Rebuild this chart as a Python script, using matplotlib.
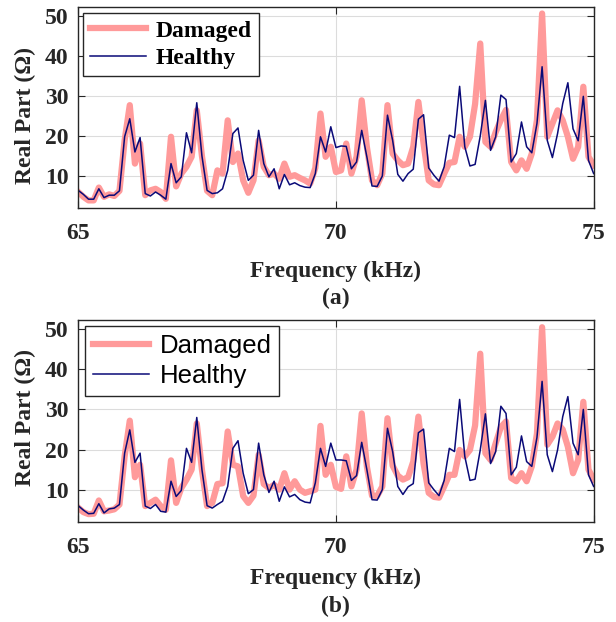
import matplotlib
matplotlib.use("Agg")
import matplotlib.pyplot as plt
import numpy as np

# frequency sweep, 0.1 kHz steps
freq = np.linspace(65, 75, 101)

# (a) real part of impedance, ohm
damaged_a = [6.0, 4.8, 3.9, 3.9, 7.1, 4.8, 5.4, 5.0, 6.3, 18.9,
             27.7, 13.1, 18.1, 5.2, 6.4, 6.8, 6.0, 4.3, 19.8, 7.4,
             10.6, 12.3, 14.8, 26.4, 15.0, 6.3, 5.2, 11.4, 10.6, 23.9,
             13.5, 15.6, 8.9, 5.8, 8.9, 18.9, 12.3, 10.2, 10.6, 9.3,
             13.1, 9.8, 10.2, 9.5, 8.9, 8.1, 12.0, 25.6, 14.8, 17.3,
             11.0, 11.4, 18.1, 10.6, 14.8, 28.9, 17.3, 8.9, 7.7, 10.6,
             27.7, 15.6, 13.9, 12.7, 13.1, 17.3, 28.5, 18.1, 8.9, 7.9,
             7.7, 10.6, 13.3, 13.5, 19.8, 17.3, 19.8, 28.0, 43.1, 18.5,
             17.3, 21.0, 24.0, 26.5, 13.5, 11.4, 13.9, 11.8, 15.6, 24.0,
             50.6, 19.8, 23.1, 26.4, 23.9, 19.8, 14.3, 17.3, 32.3, 14.8,
             12.7]
healthy_a = [6.4, 5.4, 4.2, 4.2, 6.8, 4.6, 5.2, 5.2, 6.3, 19.8,
             24.3, 16.0, 19.6, 5.6, 5.0, 6.0, 5.2, 4.2, 13.1, 8.3,
             9.8, 20.8, 15.8, 28.3, 15.0, 6.4, 5.6, 5.8, 6.8, 11.4,
             20.6, 22.0, 13.9, 8.9, 10.2, 21.4, 13.1, 9.8, 11.8, 6.8,
             10.4, 7.8, 8.3, 7.6, 7.2, 7.1, 10.6, 19.8, 16.0, 22.3,
             17.1, 17.5, 17.4, 11.8, 13.5, 21.4, 14.8, 7.5, 7.4, 10.0,
             25.2, 18.9, 10.4, 8.7, 10.6, 11.7, 24.2, 25.3, 12.0, 10.2,
             8.7, 12.3, 20.2, 19.6, 32.4, 17.3, 12.5, 12.9, 20.0, 28.9,
             16.4, 19.8, 30.2, 29.1, 13.5, 15.6, 23.5, 17.3, 15.8, 23.1,
             37.3, 18.9, 14.6, 20.6, 28.1, 33.3, 21.8, 18.8, 29.9, 13.9,
             10.6]

# (b)
damaged_b = [5.5, 4.4, 3.9, 4.0, 7.3, 4.6, 4.8, 5.1, 6.3, 18.3,
             27.2, 13.1, 16.2, 5.9, 6.7, 7.5, 5.9, 5.0, 17.3, 6.7,
             10.4, 12.5, 15.0, 26.5, 15.0, 5.9, 6.7, 11.4, 11.6, 24.5,
             16.2, 15.8, 8.4, 6.7, 8.5, 18.7, 11.4, 10.4, 11.2, 10.0,
             14.1, 10.0, 12.1, 10.0, 9.2, 9.6, 10.0, 25.9, 13.7, 16.2,
             10.7, 10.2, 18.3, 10.8, 15.0, 29.0, 15.8, 8.5, 8.4, 10.8,
             27.8, 16.0, 13.5, 12.5, 13.1, 17.0, 28.2, 16.5, 9.2, 8.2,
             8.0, 10.8, 13.7, 13.7, 19.9, 18.3, 19.9, 26.0, 43.9, 19.1,
             17.4, 21.6, 25.6, 27.0, 12.9, 12.1, 14.1, 12.1, 15.8, 24.0,
             50.5, 21.2, 23.2, 26.5, 25.0, 20.7, 14.1, 17.4, 31.9, 15.0,
             12.5]
healthy_b = [6.0, 4.9, 4.0, 4.1, 6.5, 4.2, 5.2, 5.4, 6.3, 19.1,
             24.9, 16.8, 19.1, 5.9, 5.3, 6.3, 4.6, 4.4, 12.1, 8.3,
             9.8, 20.3, 16.8, 28.0, 15.0, 6.0, 5.4, 6.3, 7.1, 10.8,
             20.3, 22.2, 14.1, 9.0, 10.0, 21.6, 13.7, 9.3, 12.1, 7.1,
             10.7, 8.2, 8.8, 7.5, 6.9, 6.7, 11.7, 20.3, 15.8, 21.6,
             17.4, 17.4, 17.2, 12.3, 13.5, 21.8, 15.0, 7.5, 7.4, 10.0,
             25.3, 19.5, 10.8, 8.8, 10.7, 11.5, 24.2, 25.1, 11.7, 10.0,
             8.5, 12.3, 20.3, 19.5, 32.5, 18.3, 12.3, 12.6, 19.9, 28.9,
             16.5, 19.5, 30.8, 29.0, 13.7, 15.6, 23.4, 17.0, 15.8, 23.0,
             37.0, 18.7, 14.5, 19.9, 28.2, 33.2, 21.6, 18.7, 30.0, 13.7,
             10.8]

xticks = [65, 70, 75]
yticks = [10, 20, 30, 40, 50]

serif = 'Liberation Serif'
pink = '#ff9a9a'
navy = '#0a0a78'

fig = plt.figure(figsize=(6.16, 6.22), dpi=100)
ax1 = fig.add_axes([0.127, 0.6656, 0.8367, 0.3236])
ax2 = fig.add_axes([0.127, 0.1612, 0.8367, 0.3243])


def style(ax, ylab_y, xlab_y, tag, tag_y, leg_font, leg_anchor, hlen):
    ax.plot(freq, ax.damaged, color=pink, lw=4.5, label='Damaged',
            solid_joinstyle='round')
    ax.plot(freq, ax.healthy, color=navy, lw=1.1, label='Healthy')
    ax.set_xlim(65, 75)
    ax.set_ylim(2, 52.3)
    ax.set_xticks(xticks)
    ax.set_yticks(yticks)
    ax.grid(True, color='#dcdcdc', lw=0.8)
    ax.set_axisbelow(True)
    ax.tick_params(direction='in', top=True, right=True, length=5,
                   width=0.8, color='#262626')
    ax.tick_params(axis='y', pad=7)
    ax.tick_params(axis='x', pad=11)
    for lab in ax.get_xticklabels() + ax.get_yticklabels():
        lab.set_fontfamily(serif)
        lab.set_fontweight('bold')
        lab.set_fontsize(17)
        lab.set_color('#262626')
    for sp in ax.spines.values():
        sp.set_linewidth(1.0)
        sp.set_color('#262626')
    ax.set_ylabel('Real Part (\u03a9)', fontfamily=serif, fontweight='bold',
                  fontsize=17, color='#262626')
    ax.yaxis.set_label_coords(-0.1015, ylab_y)
    ax.yaxis.label.set_va('center')
    ax.set_xlabel('Frequency (kHz)', fontfamily=serif, fontweight='bold',
                  fontsize=17, color='#262626')
    ax.xaxis.set_label_coords(0.5, xlab_y)
    ax.xaxis.label.set_va('center')
    ax.text(0.5, tag_y, tag, transform=ax.transAxes, ha='center',
            va='center', fontfamily=serif, fontweight='bold', fontsize=17,
            color='#262626')
    leg = ax.legend(loc='upper left', bbox_to_anchor=leg_anchor,
                    borderaxespad=0, fancybox=False, framealpha=1,
                    edgecolor='#262626', prop=leg_font, handlelength=hlen,
                    handletextpad=0.4, borderpad=0.3, labelspacing=0.25)
    leg.get_frame().set_linewidth(1.0)


ax1.damaged, ax1.healthy = damaged_a, healthy_a
ax2.damaged, ax2.healthy = damaged_b, healthy_b

style(ax1, 0.462, -0.313, '(a)', -0.447,
      {'family': serif, 'weight': 'bold', 'size': 17}, (0.0085, 0.969), 2.4)
style(ax2, 0.517, -0.282, '(b)', -0.418,
      {'family': 'Liberation Sans', 'size': 18.5}, (0.013, 0.970), 2.2)

fig.savefig('out.png', dpi=100)
